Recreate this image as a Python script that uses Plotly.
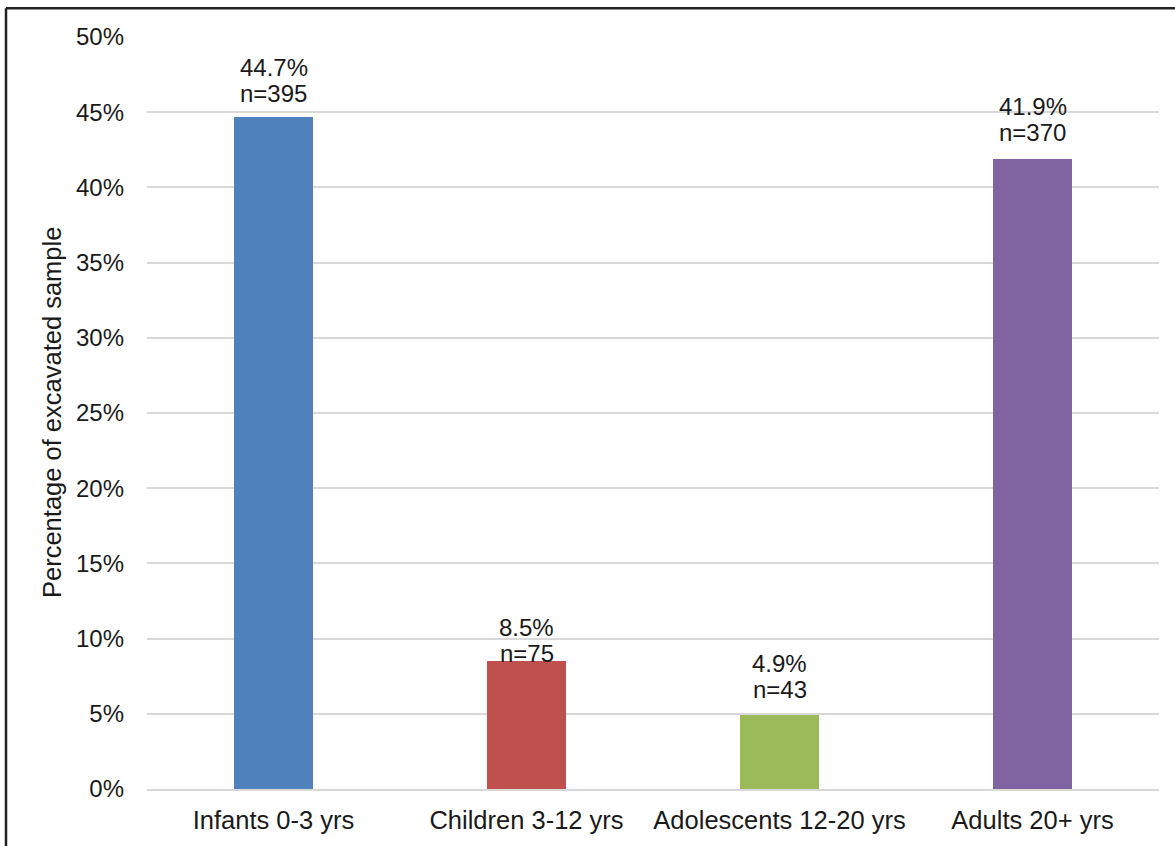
import plotly.graph_objects as go

# Age groups of the excavated burials
categories = ["Infants 0-3 yrs", "Children 3-12 yrs", "Adolescents 12-20 yrs", "Adults 20+ yrs"]
percentages = [44.7, 8.5, 4.9, 41.9]
counts = [395, 75, 43, 370]

bar_colors = ["#4F81BD", "#C0504D", "#9BBB59", "#8064A2"]
label_shift = [23, 8, 26, 26]  # px from bar top to the centre of the "n=" line
LINE_GAP = 26                  # px between the two label lines

FONT = "Liberation Sans, Arial, sans-serif"
TXT = "#1a1a1a"
W, H = 1175, 846
ML, MR, MT, MB = 147, 16, 37, 49
PW, PH = W - ML - MR, H - MT - MB

fig = go.Figure(
    go.Bar(
        x=categories,
        y=percentages,
        marker=dict(color=bar_colors, line=dict(width=0)),
        width=0.316,
        hoverinfo="skip",
    )
)

for cat, pct, n, dy in zip(categories, percentages, counts, label_shift):
    fig.add_annotation(
        x=cat, y=pct, xref="x", yref="y", text=f"n={n}",
        showarrow=False, yanchor="middle", yshift=dy,
        font=dict(family=FONT, size=24, color=TXT),
    )
    fig.add_annotation(
        x=cat, y=pct, xref="x", yref="y", text=f"{pct:.1f}%",
        showarrow=False, yanchor="middle", yshift=dy + LINE_GAP,
        font=dict(family=FONT, size=24, color=TXT),
    )

# rotated axis title
fig.add_annotation(
    x=(52 - ML) / PW, y=0.5, xref="paper", yref="paper",
    text="Percentage of excavated sample", textangle=-90,
    showarrow=False, xanchor="center", yanchor="middle",
    font=dict(family=FONT, size=25.5, color=TXT),
)

# outer frame
x_left = (6 - ML) / PW
y_top = 1 + (MT - 8) / PH
fig.add_shape(type="line", xref="paper", yref="paper",
              x0=x_left, x1=x_left, y0=-0.2, y1=y_top,
              line=dict(color="#222222", width=2.5))
fig.add_shape(type="line", xref="paper", yref="paper",
              x0=x_left, x1=1.1, y0=y_top, y1=y_top,
              line=dict(color="#222222", width=2.5))

fig.update_layout(
    width=W, height=H,
    margin=dict(l=ML, r=MR, t=MT, b=MB, pad=0),
    paper_bgcolor="white", plot_bgcolor="white",
    showlegend=False,
    font=dict(family=FONT, size=24, color=TXT),
    bargap=0,
)
fig.update_xaxes(
    showgrid=False, showline=True, linecolor="#D9D9D9", linewidth=2,
    ticks="", ticklabelstandoff=7, tickfont=dict(size=25.5),
)
fig.update_yaxes(
    range=[0, 50], dtick=5, ticksuffix="%",
    showgrid=True, gridcolor="#D9D9D9", gridwidth=2,
    zeroline=False, showline=False, ticks="",
    ticklabelstandoff=22, tickfont=dict(size=24),
)

fig.write_html("out.html")
